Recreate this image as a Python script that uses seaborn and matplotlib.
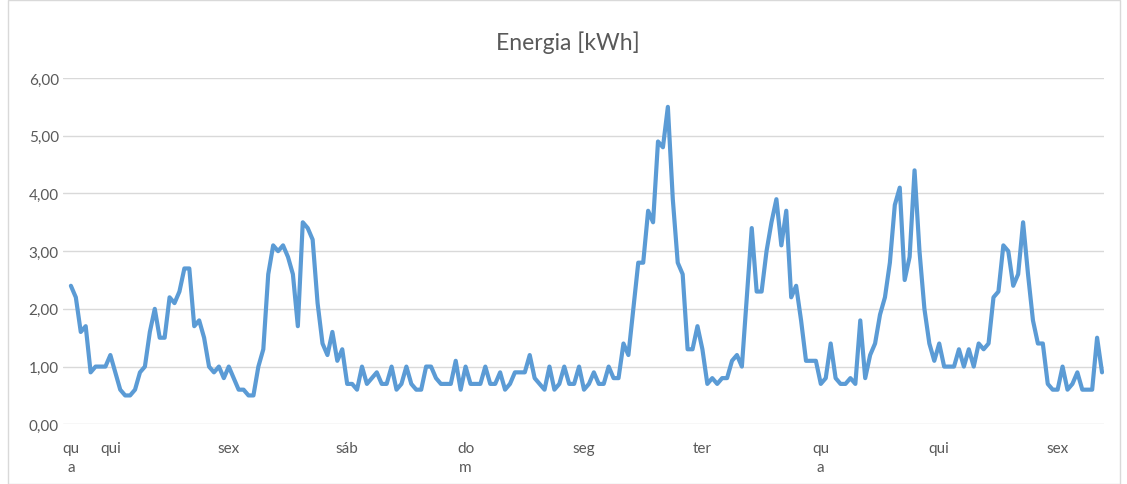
import numpy as np
import pandas as pd
import matplotlib
matplotlib.use("Agg")
import matplotlib.pyplot as plt
from matplotlib.patches import Rectangle
import seaborn as sns

# consumo horario (kWh), a partir de qua 16h
energia = [
    2.4, 2.2, 1.6, 1.7, 0.9, 1.0, 1.0, 1.0, 1.2, 0.9,
    0.6, 0.5, 0.5, 0.6, 0.9, 1.0, 1.6, 2.0, 1.5, 1.5,
    2.2, 2.1, 2.3, 2.7, 2.7, 1.7, 1.8, 1.5, 1.0, 0.9,
    1.0, 0.8, 1.0, 0.8, 0.6, 0.6, 0.5, 0.5, 1.0, 1.3,
    2.6, 3.1, 3.0, 3.1, 2.9, 2.6, 1.7, 3.5, 3.4, 3.2,
    2.1, 1.4, 1.2, 1.6, 1.1, 1.3, 0.7, 0.7, 0.6, 1.0,
    0.7, 0.8, 0.9, 0.7, 0.7, 1.0, 0.6, 0.7, 1.0, 0.7,
    0.6, 0.6, 1.0, 1.0, 0.8, 0.7, 0.7, 0.7, 1.1, 0.6,
    1.0, 0.7, 0.7, 0.7, 1.0, 0.7, 0.7, 0.9, 0.6, 0.7,
    0.9, 0.9, 0.9, 1.2, 0.8, 0.7, 0.6, 1.0, 0.6, 0.7,
    1.0, 0.7, 0.7, 1.0, 0.6, 0.7, 0.9, 0.7, 0.7, 1.0,
    0.8, 0.8, 1.4, 1.2, 2.0, 2.8, 2.8, 3.7, 3.5, 4.9,
    4.8, 5.5, 3.9, 2.8, 2.6, 1.3, 1.3, 1.7, 1.3, 0.7,
    0.8, 0.7, 0.8, 0.8, 1.1, 1.2, 1.0, 2.2, 3.4, 2.3,
    2.3, 3.0, 3.5, 3.9, 3.1, 3.7, 2.2, 2.4, 1.8, 1.1,
    1.1, 1.1, 0.7, 0.8, 1.4, 0.8, 0.7, 0.7, 0.8, 0.7,
    1.8, 0.8, 1.2, 1.4, 1.9, 2.2, 2.8, 3.8, 4.1, 2.5,
    2.9, 4.4, 3.0, 2.0, 1.4, 1.1, 1.4, 1.0, 1.0, 1.0,
    1.3, 1.0, 1.3, 1.0, 1.4, 1.3, 1.4, 2.2, 2.3, 3.1,
    3.0, 2.4, 2.6, 3.5, 2.6, 1.8, 1.4, 1.4, 0.7, 0.6,
    0.6, 1.0, 0.6, 0.7, 0.9, 0.6, 0.6, 0.6, 1.5, 0.9,
]

# rotulos dos dias (como o Excel quebrou no grafico original)
dias = ["qu\na", "qui", "sex", "sáb", "do\nm", "seg", "ter", "qu\na", "qui", "sex"]
inicio_dia = [0, 8, 32, 56, 80, 104, 128, 152, 176, 200]

yticks = [0, 1, 2, 3, 4, 5, 6]

df = pd.DataFrame({"hora": np.arange(len(energia)), "energia": energia})

sns.set_style("white")
plt.rcParams["font.family"] = ["Lato", "DejaVu Sans"]

cinza = "#595959"
grade = "#D9D9D9"

fig = plt.figure(figsize=(11.27, 4.85), dpi=100)
ax = fig.add_axes([63 / 1127, 1 - 425.3 / 485, (1104 - 63) / 1127, (425.3 - 79) / 485])

sns.lineplot(data=df, x="hora", y="energia", ax=ax, color="#5B9BD5", linewidth=3.0)

ax.set_xlim(-1.6, len(energia) - 0.6)
ax.set_ylim(0, 6)
ax.set_yticks(yticks)
ax.set_yticklabels([f"{v:.2f}".replace(".", ",") for v in yticks])
ax.set_xticks(inicio_dia)
ax.set_xticklabels(dias, linespacing=1.45)
ax.yaxis.grid(True, color=grade, linewidth=1.0)
ax.set_axisbelow(True)
for s in ax.spines.values():
    s.set_visible(False)
ax.tick_params(axis="both", length=0, labelsize=11, colors=cinza)
ax.tick_params(axis="x", pad=12)
ax.tick_params(axis="y", pad=3)
ax.set_xlabel("")
ax.set_ylabel("")

fig.text(568 / 1127, 1 - 43 / 485, "Energia [kWh]", ha="center", va="center",
         fontsize=16.5, color=cinza)

# moldura da area do grafico
fig.patches.append(Rectangle((8 / 1127, 0.5 / 485), (1120 - 8) / 1127, 1 - 1.5 / 485,
                             transform=fig.transFigure, fill=False,
                             edgecolor=grade, linewidth=1.0))

plt.savefig("out.png", dpi=100)
plt.close()
